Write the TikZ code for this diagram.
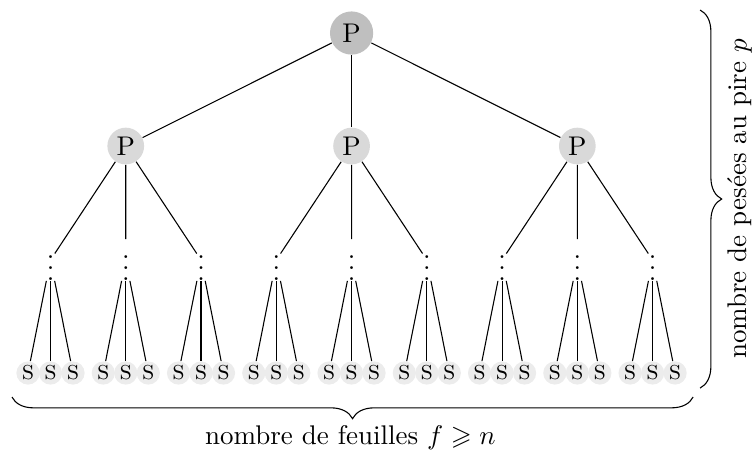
\documentclass[tikz,border=0pt]{standalone}
\usepackage{amsmath,amssymb}
\usepackage{tikz}
\usetikzlibrary{positioning, decorations.pathreplacing}

\begin{document}
\begin{tikzpicture}
			\tikzset{racine/.style={circle, fill=gray!50, minimum size=16pt, inner sep=0pt}}
			\tikzset{pesee/.style={circle, fill=gray!30, minimum size=13.6pt, inner sep=0pt}}
			\tikzset{feuille/.style={circle, fill=gray!15, minimum size=8.6pt, inner sep=0pt}}
			\tikzset{points/.style={inner sep=0pt}}
			\tikzset{accolade/.style={decorate, decoration={brace, amplitude=8pt}}}

			\useasboundingbox (0,0) rectangle (9.79,-5.86);

			\node (r) [racine] at (4.577,-0.43) {P};
			\foreach \i/\x in {1/1.637, 2/4.577, 3/7.516}
				{ \node (p\i) [pesee] at (\x,-1.901) {P}; }
			\foreach \i in {1,2,3}
				{ \draw (r) -- (p\i); }

			\foreach \k in {0,...,8}
				{
				\pgfmathsetmacro{\xg}{0.6575+0.9798*\k}
				\node (d\k) [points] at (\xg,-3.385) {$\vdots$};
				\foreach \j/\dx in {1/-0.293, 2/0, 3/0.293}
					{
					\node (f\k\j) [feuille] at (\xg+\dx,-4.856) {\textsc{s}};
					\draw (d\k) -- (f\k\j);
					}
				}

			\foreach \i/\a/\b/\c in {1/0/1/2, 2/3/4/5, 3/6/7/8}
				\foreach \k in {\a,\b,\c}
					{ \draw (p\i) -- (d\k); }

			% accolades
			\coordinate (b1) at (9.023,-5.169);
			\coordinate (b2) at (0.156,-5.169);
			\draw[accolade] (b1) -- (b2);
			\coordinate (c1) at (9.114,-0.13);
			\coordinate (c2) at (9.114,-5.052);
			\draw[accolade] (c1) -- (c2);

			\node (nf) at (4.56,-5.70) {nombre de feuilles $f \geqslant n$};
			\node (np) [rotate=90] at (9.63,-2.59) {nombre de pesées au pire $p$};
\end{tikzpicture}
\end{document}
